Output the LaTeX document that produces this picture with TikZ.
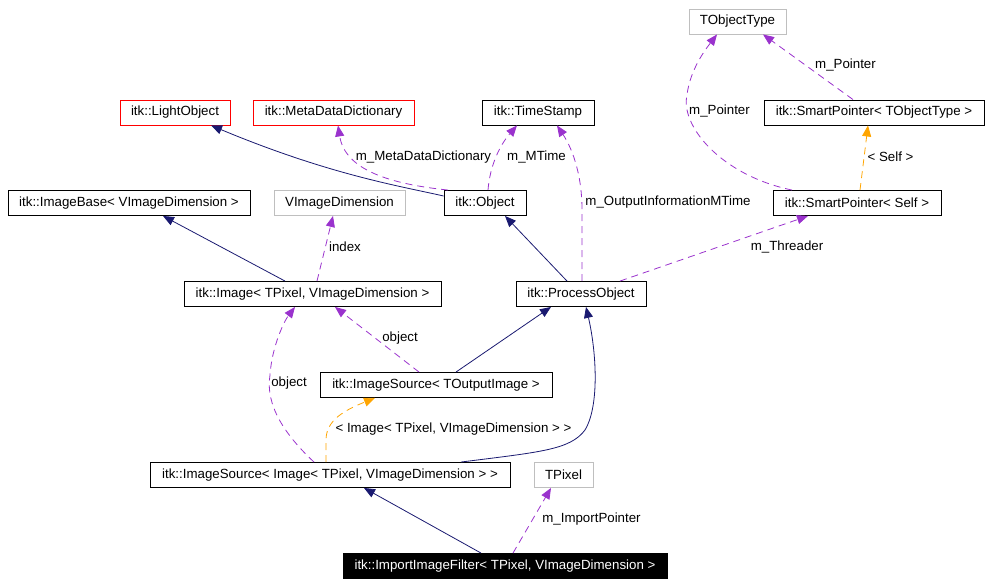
\documentclass[tikz,border=0pt]{standalone}
\usepackage{fontspec}
\setmainfont{Liberation Sans}
\usepackage{xcolor}
\definecolor{edgenavy}{HTML}{191970}
\definecolor{edgepurple}{HTML}{9A32CD}
\definecolor{edgeorange}{HTML}{FFA500}
\definecolor{boxred}{HTML}{FF0000}
\definecolor{boxgray}{HTML}{BFBFBF}
\usetikzlibrary{arrows.meta}

\begin{document}
\begin{tikzpicture}[x=1pt, y=-1pt,
  cls/.style={draw=black, line width=0.9pt, fill=white, minimum height=25pt, inner sep=0pt, font=\fontsize{13.3}{15}\selectfont},
  redcls/.style={cls, draw=boxred},
  graycls/.style={cls, draw=boxgray},
  focus/.style={cls, fill=black, text=white},
  lbl/.style={font=\fontsize{13.3}{15}\selectfont, inner sep=0pt},
  inherit/.style={draw=edgenavy, line width=0.8pt, -{Triangle[length=11pt,width=9pt]}},
  usage/.style={draw=edgepurple, line width=0.8pt, dash pattern=on 7pt off 5pt, -{Triangle[length=11pt,width=9pt]}},
  tmpl/.style={usage, draw=edgeorange}]
  \useasboundingbox (0,0) rectangle (990,586);
  % Row 1
  \node[graycls, minimum width=97pt]  (tobjtype)  at (737.5,21.5) {TObjectType};
  % Row 2
  \node[redcls, minimum width=110pt]  (lightobj)  at (175,112.5)   {itk::LightObject};
  \node[redcls, minimum width=161pt]  (metadict)  at (333.5,112.5) {itk::MetaDataDictionary};
  \node[cls, minimum width=112pt]     (timestamp) at (538,112.5)   {itk::TimeStamp};
  \node[cls, minimum width=220pt]     (spobj)     at (874,112.5)   {itk::SmartPointer< TObjectType >};
  % Row 3
  \node[cls, minimum width=242pt]     (imagebase) at (129,203)   {itk::ImageBase< VImageDimension >};
  \node[graycls, minimum width=131pt] (vimagedim) at (339.5,203) {VImageDimension};
  \node[cls, minimum width=82pt]      (object)    at (485,203)   {itk::Object};
  \node[cls, minimum width=168pt]     (spself)    at (857,203)   {itk::SmartPointer< Self >};
  % Row 4
  \node[cls, minimum width=257pt]     (image)     at (312.5,294) {itk::Image< TPixel, VImageDimension >};
  \node[cls, minimum width=130pt]     (procobj)   at (581,294)   {itk::ProcessObject};
  % Row 5
  \node[cls, minimum width=232pt]     (isout)     at (436,385)   {itk::ImageSource< TOutputImage >};
  % Row 6
  \node[cls, minimum width=360pt]     (isimg)     at (330,475)   {itk::ImageSource< Image< TPixel, VImageDimension > >};
  \node[graycls, minimum width=59pt]  (tpixel)    at (563.5,475) {TPixel};
  % Row 7 -- the class itself
  \node[focus, minimum width=324pt]   (filter)    at (505,566)   {itk::ImportImageFilter< TPixel, VImageDimension >};

  % Inheritance
  \draw[inherit] ([yshift=7pt]object.west) .. controls (400,186) and (330,175) .. ([xshift=36pt]lightobj.south);
  \draw[inherit] ([xshift=-14pt]procobj.north) -- ([xshift=20pt]object.south);
  \draw[inherit] ([xshift=-27.5pt]image.north) -- ([xshift=34pt]imagebase.south);
  \draw[inherit] ([xshift=20pt]isout.north) -- ([xshift=-30pt]procobj.south);
  \draw[inherit] ([xshift=131pt]isimg.north) .. controls (540,452) and (570,450) .. (585,430)
                 .. controls (600,405) and (596,350) .. ([xshift=5pt]procobj.south);
  \draw[inherit] ([xshift=-24pt]filter.north) -- ([xshift=34pt]isimg.south);

  % Members
  \draw[usage] ([xshift=-37pt]object.north) .. controls (390,184) and (345,170) .. ([xshift=4.5pt]metadict.south);
  \draw[usage] ([xshift=3pt]object.north) .. controls (490,165) and (500,145) .. ([xshift=-21pt]timestamp.south);
  \draw[usage] ([xshift=1pt]procobj.north) -- (582,210) .. controls (582,170) and (570,145) .. ([xshift=19pt]timestamp.south);
  \draw[usage] ([xshift=39pt]procobj.north) -- ([xshift=-49pt]spself.south);
  \draw[usage] ([xshift=-65pt]spself.north) .. controls (720,175) and (680,125) .. (687,95)
               .. controls (690,70) and (705,50) .. ([xshift=-20.5pt]tobjtype.south);
  \draw[usage] ([xshift=-21pt]spobj.north) -- ([xshift=25.5pt]tobjtype.south);
  \draw[usage] ([xshift=4.5pt]image.north) -- ([xshift=-6.5pt]vimagedim.south);
  \draw[usage] ([xshift=-17pt]isout.north) -- ([xshift=22.5pt]image.south);
  \draw[usage] ([xshift=-16pt]isimg.north) .. controls (285,435) and (265,405) .. (270,375)
               .. controls (272,345) and (285,320) .. ([xshift=-17.5pt]image.south);
  \draw[usage] ([xshift=8pt]filter.north) -- ([xshift=-12.5pt]tpixel.south);

  % Template arguments
  \draw[tmpl] ([xshift=3pt]spself.north) -- ([xshift=-6pt]spobj.south);
  \draw[tmpl] ([xshift=-4pt]isimg.north) -- (326,440) .. controls (326,420) and (345,410) .. ([xshift=-61pt]isout.south);

  % Edge labels
  \node[lbl] (lmeta)    at (423.5,157) {m\_MetaDataDictionary};
  \node[lbl] (lmtime)   at (536.5,157) {m\_MTime};
  \node[lbl] (loutinfo) at (668,202)   {m\_OutputInformationMTime};
  \node[lbl] (lthread)  at (787,247)   {m\_Threader};
  \node[lbl] (lptrl)    at (719.5,111) {m\_Pointer};
  \node[lbl] (lptrr)    at (845.5,65)  {m\_Pointer};
  \node[lbl] (lself)    at (890.5,157) {< Self >};
  \node[lbl] (lindex)   at (345,247)   {index};
  \node[lbl] (lobjup)   at (400,338)   {object};
  \node[lbl] (lobjleft) at (289,383)   {object};
  \node[lbl] (limgarg)  at (453.5,429) {< Image< TPixel, VImageDimension > >};
  \node[lbl] (limport)  at (591.5,519) {m\_ImportPointer};
\end{tikzpicture}
\end{document}
